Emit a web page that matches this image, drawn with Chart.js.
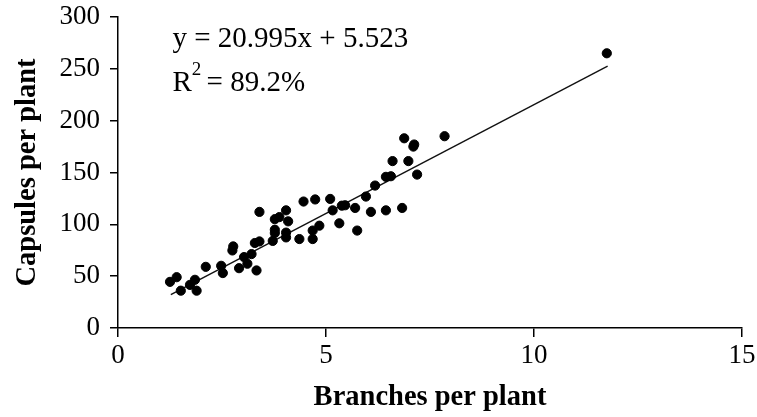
<!DOCTYPE html>
<html>
<head>
<meta charset="utf-8">
<script src="https://cdn.jsdelivr.net/npm/chart.js@4.4.0/dist/chart.umd.min.js"></script>
<style>
  html, body { margin: 0; padding: 0; background: #fff; }
  #wrap { width: 757px; height: 417px; }
  .preload { font-family: "Liberation Serif"; position: absolute; left: -999px; }
</style>
</head>
<body>
<span class="preload">0 <b>B</b></span>
<div id="wrap"><canvas id="scatter" width="757" height="417"></canvas></div>
<script>
// branches per plant (x) and capsules per plant (y)
const branches = [
  1.25, 1.41, 1.51, 1.73, 1.85, 1.89, 2.11, 2.48, 2.52, 2.77,
  2.75, 2.91, 3.03, 3.11, 3.21, 3.33, 3.29, 3.40, 3.40, 3.72,
  3.77, 3.88, 3.77, 3.77, 4.04, 4.09, 4.04, 4.04, 4.36, 4.46,
  4.68, 4.68, 4.74, 4.84, 5.10, 5.16, 5.32, 5.38, 5.46, 5.70,
  5.75, 5.96, 6.08, 6.18, 6.44, 6.56, 6.44, 6.83, 6.60, 6.98,
  7.19, 11.75, 6.88, 7.85, 7.10, 7.12
];
const capsules = [
  44.5, 49, 36, 41.6, 46.5, 36, 59, 60, 53, 78.7,
  74.8, 57.7, 68.4, 62, 71.3, 55.5, 82, 83.5, 112, 84,
  105, 107, 94.8, 91.6, 113.5, 102.9, 92, 87.4, 85.8, 122,
  85.8, 94, 124, 98.7, 124.5, 113.5, 101, 118, 118.4, 115.8,
  94, 126.8, 112, 137.4, 145.8, 146.4, 113.5, 115.8, 161, 161,
  148, 265, 183, 185, 175, 177
];

// fitted line y = 20.995x + 5.523, drawn over the observed x range
const slope = 20.995;
const intercept = 5.523;
const fitRange = [1.27, 11.77];

const xTicks = [0, 5, 10, 15];
const yTicks = [0, 50, 100, 150, 200, 250, 300];

const serif = '"Liberation Serif", "Times New Roman", serif';

const points = branches.map((x, i) => ({ x: x, y: capsules[i] }));
const fitLine = fitRange.map(x => ({ x: x, y: slope * x + intercept }));

// equation and R² text in the upper left of the plot
const equationLabel = {
  id: 'equationLabel',
  afterDraw(chart) {
    const { ctx, scales } = chart;
    const left = scales.x.getPixelForValue(1.31);
    const base1 = scales.y.getPixelForValue(271.4);
    const base2 = scales.y.getPixelForValue(228.6);
    const supBase = scales.y.getPixelForValue(244);
    ctx.save();
    ctx.fillStyle = '#000';
    ctx.textBaseline = 'alphabetic';
    ctx.textAlign = 'left';
    ctx.font = '29px ' + serif;
    ctx.fillText('y = ' + slope.toFixed(3) + 'x + ' + intercept.toFixed(3), left, base1);
    ctx.fillText('R', left, base2);
    const rw = ctx.measureText('R').width;
    ctx.font = '19px ' + serif;
    ctx.fillText('2', left + rw, supBase);
    const sw = ctx.measureText('2').width;
    ctx.font = '29px ' + serif;
    ctx.fillText(' = 89.2%', left + rw + sw - 2, base2);
    ctx.restore();
  }
};

function draw() {
  new Chart(document.getElementById('scatter').getContext('2d'), {
    type: 'scatter',
    data: {
      datasets: [
        {
          label: 'Plants',
          data: points,
          backgroundColor: '#000',
          borderColor: '#000',
          pointRadius: 4.6,
          pointHoverRadius: 4.6
        },
        {
          label: 'Fit',
          type: 'line',
          data: fitLine,
          borderColor: '#111',
          borderWidth: 1.4,
          pointRadius: 0,
          fill: false
        }
      ]
    },
    options: {
      responsive: false,
      animation: false,
      layout: { padding: { left: 0, right: 15, top: 17, bottom: 0 } },
      plugins: {
        legend: { display: false },
        tooltip: { enabled: false }
      },
      scales: {
        x: {
          type: 'linear',
          min: 0,
          max: 15,
          afterBuildTicks(axis) { axis.ticks = xTicks.map(v => ({ value: v })); },
          afterFit(axis) {
            axis.height = 89;
            axis.paddingLeft = 0;
            axis.paddingRight = 0;
          },
          border: { color: '#000', width: 1.5 },
          grid: { drawOnChartArea: false, color: '#000', tickLength: 9, lineWidth: 1.5 },
          ticks: { color: '#000', font: { family: serif, size: 27 }, padding: 3, maxRotation: 0 },
          title: {
            display: true,
            text: 'Branches per plant',
            color: '#000',
            font: { family: serif, size: 28.5, weight: 'bold' },
            padding: { top: 0, bottom: 2 }
          }
        },
        y: {
          type: 'linear',
          min: 0,
          max: 300,
          afterBuildTicks(axis) { axis.ticks = yTicks.map(v => ({ value: v })); },
          afterFit(axis) {
            axis.width = 118;
            axis.paddingTop = 0;
            axis.paddingBottom = 0;
          },
          border: { color: '#000', width: 1.5 },
          grid: { drawOnChartArea: false, color: '#000', tickLength: 8, lineWidth: 1.5 },
          ticks: { color: '#000', font: { family: serif, size: 27 }, padding: 10 },
          title: {
            display: true,
            text: 'Capsules per plant',
            color: '#000',
            font: { family: serif, size: 28.5, weight: 'bold' },
            padding: { top: 11, bottom: 0 }
          }
        }
      }
    },
    plugins: [equationLabel]
  });
}

Promise.all([
  document.fonts.load('27px "Liberation Serif"'),
  document.fonts.load('bold 28.5px "Liberation Serif"')
]).then(draw, draw);
</script>
</body>
</html>
